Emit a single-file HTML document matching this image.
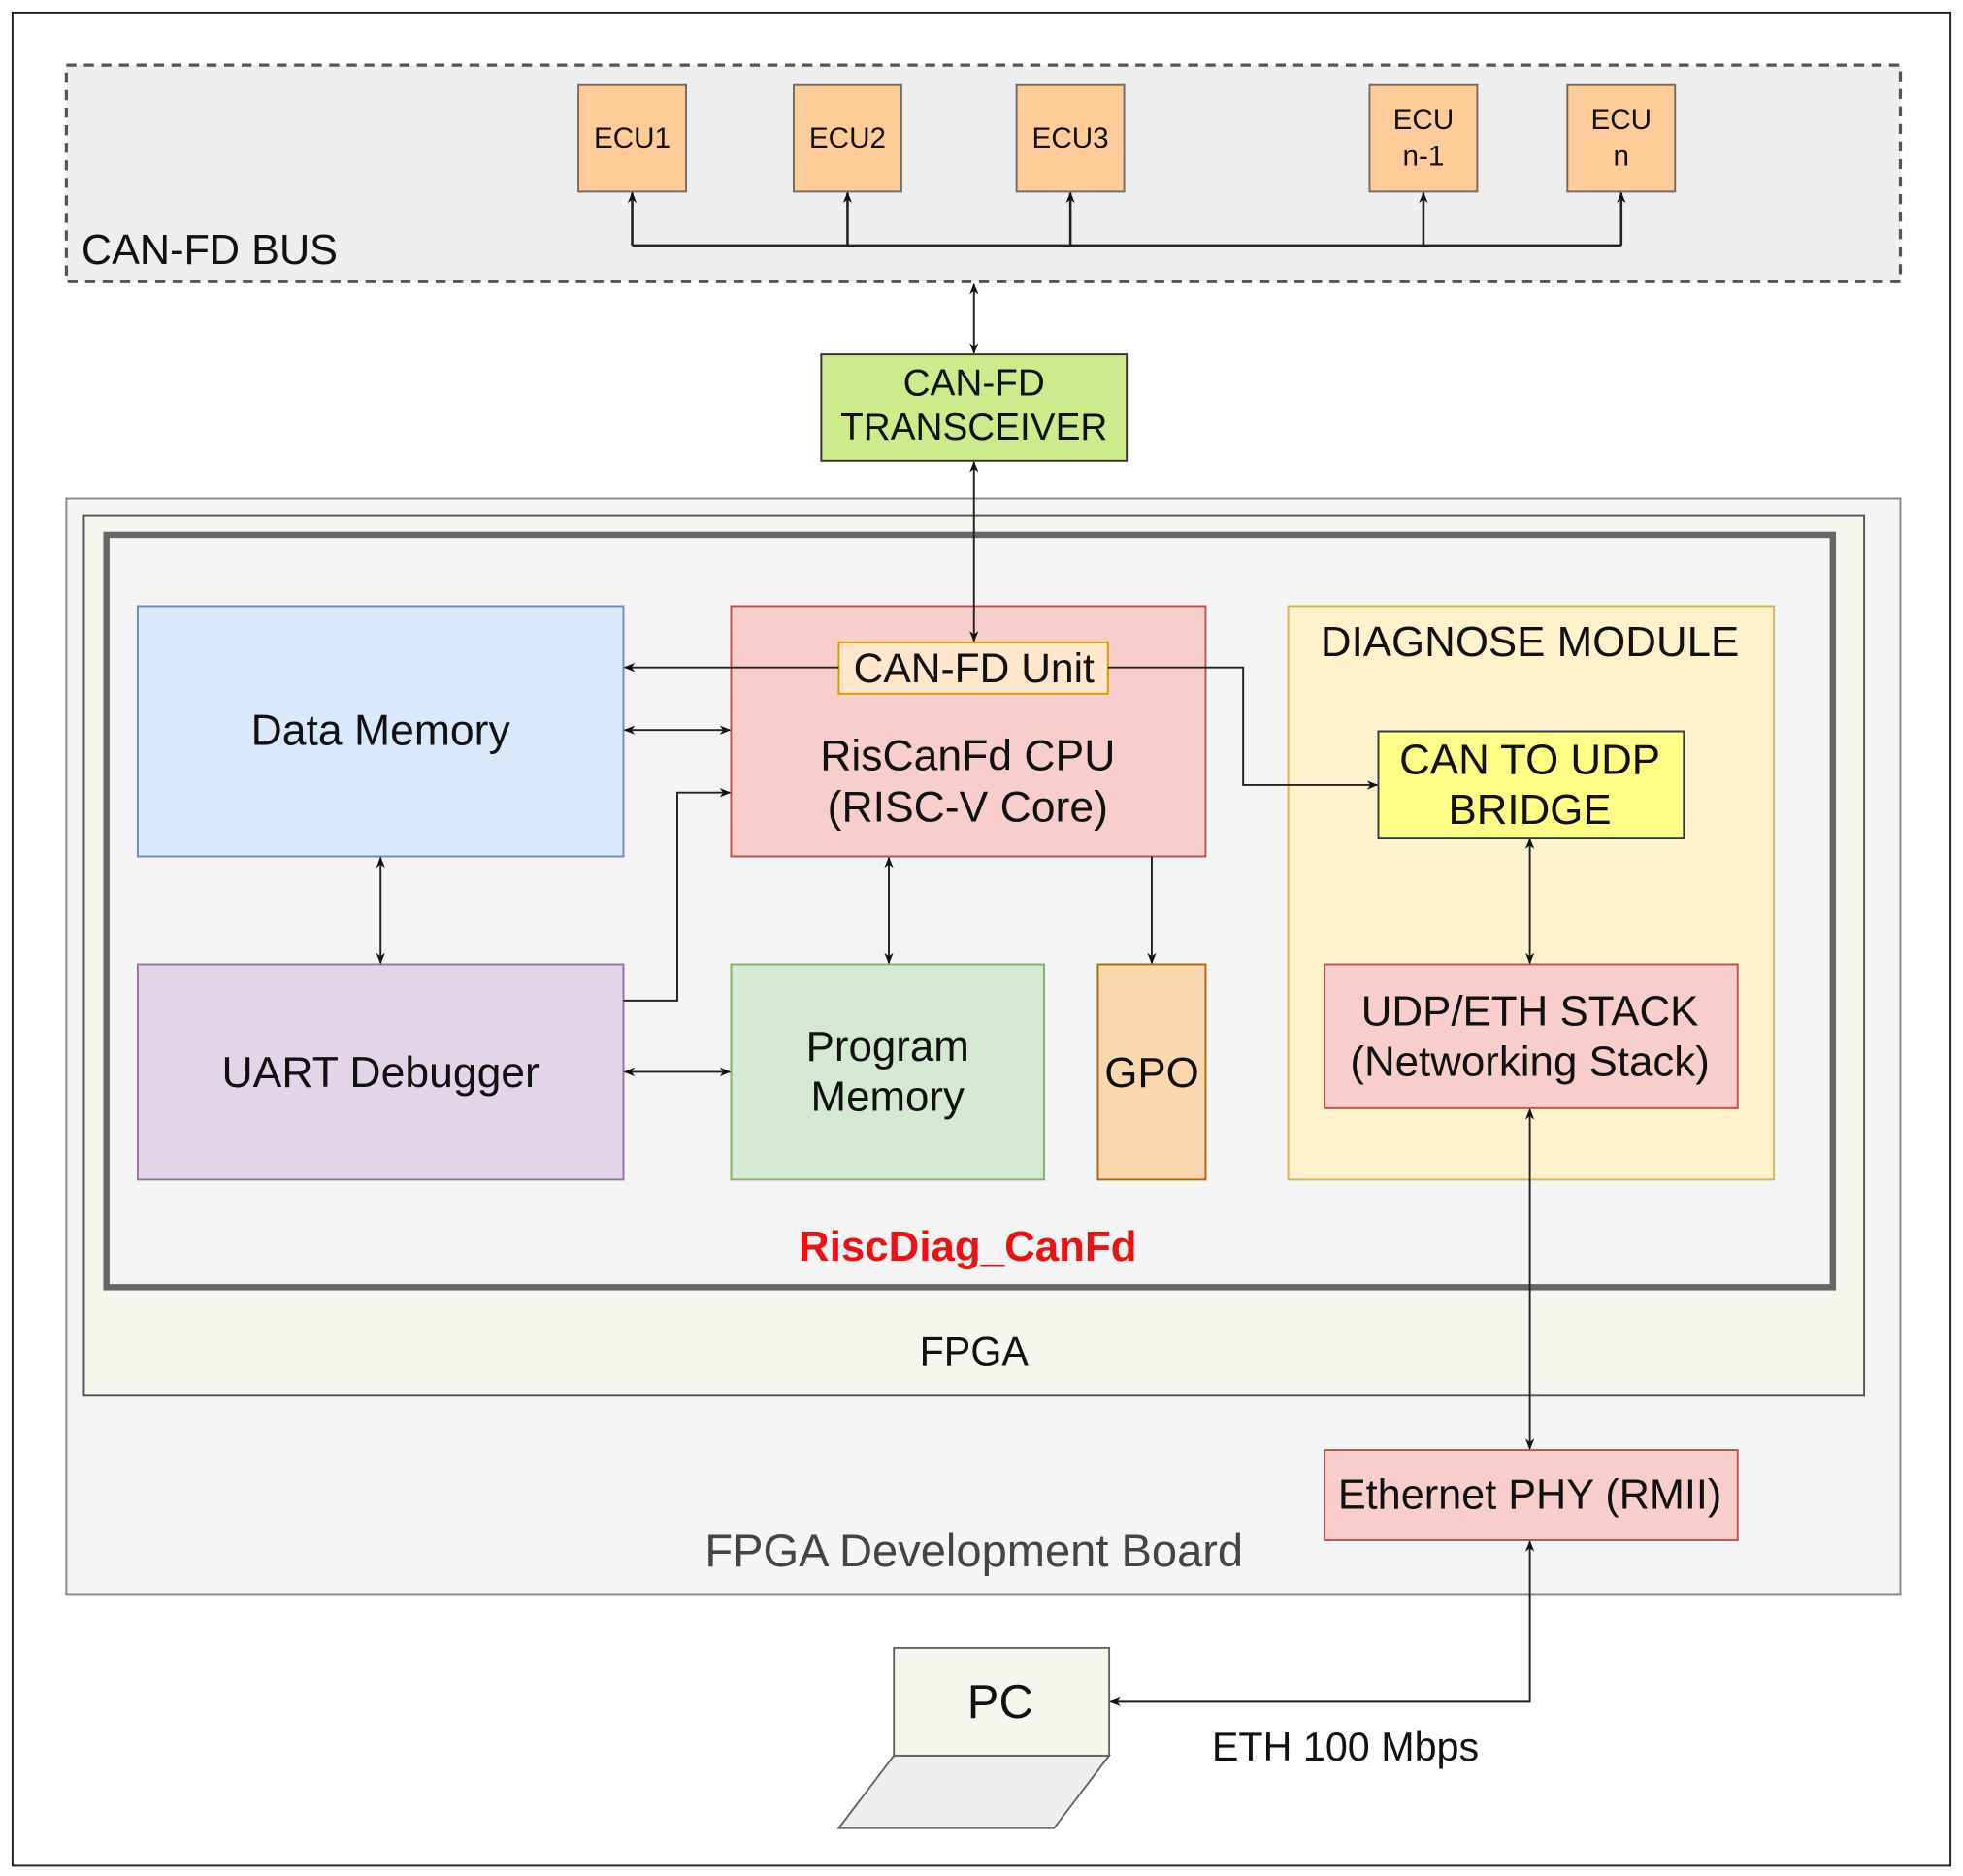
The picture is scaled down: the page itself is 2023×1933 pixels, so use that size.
<!DOCTYPE html>
<html><head><meta charset="utf-8"><style>html,body{margin:0;padding:0;background:#fff}svg{display:block}text{font-family:"Liberation Sans",Arial,sans-serif;fill:#111}</style></head>
<body>
<svg width="2023" height="1933" viewBox="0 0 1568 1498.2" preserveAspectRatio="none" xmlns="http://www.w3.org/2000/svg">
<defs>
<marker id="a" viewBox="0 0 10 10" refX="9" refY="5" markerWidth="9" markerHeight="9" orient="auto-start-reverse" markerUnits="userSpaceOnUse"><path d="M0,1 L10,5 L0,9 L3,5 z" fill="#111"/></marker>
</defs>
<rect x="0" y="0" width="1568" height="1499" fill="#fff"/>
<rect x="10" y="10" width="1548" height="1480" fill="#fff" stroke="#222" stroke-width="1.5"/>
<rect x="53" y="52" width="1465" height="173" fill="#eeeeee" stroke="#555" stroke-width="2.5" stroke-dasharray="8,6"/>
<text x="65" y="211" font-size="33.5">CAN-FD BUS</text>
<g fill="#ffcc99" stroke="#7a6a5a" stroke-width="1.5">
<rect x="462" y="68" width="86" height="85"/><rect x="634" y="68" width="86" height="85"/><rect x="812" y="68" width="86" height="85"/><rect x="1094" y="68" width="86" height="85"/><rect x="1252" y="68" width="86" height="85"/>
</g>
<g font-size="23" text-anchor="middle">
<text x="505" y="118">ECU1</text><text x="677" y="118">ECU2</text><text x="855" y="118">ECU3</text>
<text x="1137" y="103">ECU</text><text x="1137" y="132">n-1</text>
<text x="1295" y="103">ECU</text><text x="1295" y="132">n</text>
</g>
<g stroke="#222" stroke-width="2" fill="none">
<path d="M505,196 H1295"/>
<path d="M505,196 V154" marker-end="url(#a)"/><path d="M677,196 V154" marker-end="url(#a)"/><path d="M855,196 V154" marker-end="url(#a)"/><path d="M1137,196 V154" marker-end="url(#a)"/><path d="M1295,196 V154" marker-end="url(#a)"/>
</g>
<g stroke="#222" stroke-width="1.5" fill="none">
<path d="M778,227 V282" marker-start="url(#a)" marker-end="url(#a)"/>
</g>
<rect x="656" y="283" width="244" height="85" fill="#cdeb8b" stroke="#333" stroke-width="1.5"/>
<text x="778" y="316" font-size="30" text-anchor="middle">CAN-FD</text>
<text x="778" y="351" font-size="30" text-anchor="middle">TRANSCEIVER</text>
<rect x="53" y="398" width="1465" height="875" fill="#f5f5f5" stroke="#888" stroke-width="1.5"/>
<text x="778" y="1251" font-size="36.5" text-anchor="middle" style="fill:#444">FPGA Development Board</text>
<rect x="67" y="412" width="1422" height="702" fill="#f6f5ee" stroke="#555" stroke-width="1.5"/>
<text x="778" y="1090" font-size="32" text-anchor="middle">FPGA</text>
<rect x="85" y="427" width="1379" height="601" fill="#f4f4f4" stroke="#666" stroke-width="5"/>
<text x="773" y="1007" font-size="34" font-weight="bold" text-anchor="middle" style="fill:#ee1111">RiscDiag_CanFd</text>
<rect x="110" y="484" width="388" height="200" fill="#dae8fc" stroke="#6c8ebf" stroke-width="1.5"/>
<text x="304" y="595" font-size="34.5" text-anchor="middle">Data Memory</text>
<rect x="584" y="484" width="379" height="200" fill="#f8cecc" stroke="#b85450" stroke-width="1.5"/>
<text x="773" y="615" font-size="34.5" text-anchor="middle">RisCanFd CPU</text>
<text x="773" y="656" font-size="34.5" text-anchor="middle">(RISC-V Core)</text>
<rect x="670" y="513" width="215" height="41" fill="#ffe6cc" stroke="#d79b00" stroke-width="1.5"/>
<text x="778" y="545" font-size="33" text-anchor="middle">CAN-FD Unit</text>
<rect x="1029" y="484" width="388" height="458" fill="#fff2cc" stroke="#d6b656" stroke-width="1.5"/>
<text x="1222" y="524" font-size="34" text-anchor="middle">DIAGNOSE MODULE</text>
<rect x="1101" y="584" width="244" height="85" fill="#ffff88" stroke="#36393d" stroke-width="1.5"/>
<text x="1222" y="618" font-size="34" text-anchor="middle">CAN TO UDP</text>
<text x="1222" y="658" font-size="34" text-anchor="middle">BRIDGE</text>
<rect x="1058" y="770" width="330" height="115" fill="#f8cecc" stroke="#b85450" stroke-width="1.5"/>
<text x="1222" y="819" font-size="34" text-anchor="middle">UDP/ETH STACK</text>
<text x="1222" y="859" font-size="34" text-anchor="middle">(Networking Stack)</text>
<rect x="110" y="770" width="388" height="172" fill="#e1d5e7" stroke="#9673a6" stroke-width="1.5"/>
<text x="304" y="868" font-size="34.5" text-anchor="middle">UART Debugger</text>
<rect x="584" y="770" width="250" height="172" fill="#d5e8d4" stroke="#82b366" stroke-width="1.5"/>
<text x="709" y="847" font-size="34" text-anchor="middle">Program</text>
<text x="709" y="887" font-size="34" text-anchor="middle">Memory</text>
<rect x="877" y="770" width="86" height="172" fill="#fad7ac" stroke="#b46504" stroke-width="1.5"/>
<text x="920" y="868" font-size="34" text-anchor="middle">GPO</text>
<rect x="1058" y="1158" width="330" height="72" fill="#f8cecc" stroke="#b85450" stroke-width="1.5"/>
<text x="1222" y="1205" font-size="33.5" text-anchor="middle">Ethernet PHY (RMII)</text>
<polygon points="714,1402 886,1402 842,1460 670,1460" fill="#eeeeee" stroke="#666" stroke-width="1.5"/>
<rect x="714" y="1316" width="172" height="86" fill="#f6f5ee" stroke="#666" stroke-width="1.5"/>
<text x="799" y="1372" font-size="38" text-anchor="middle">PC</text>
<text x="968" y="1406" font-size="32">ETH 100 Mbps</text>
<g stroke="#222" stroke-width="1.5" fill="none">
<path d="M778,369 V512" marker-start="url(#a)" marker-end="url(#a)"/>
<path d="M670,533 H499" marker-end="url(#a)"/>
<path d="M499,583 H583" marker-start="url(#a)" marker-end="url(#a)"/>
<path d="M498,799 H541 V633 H583" marker-end="url(#a)"/>
<path d="M885,533 H993 V627 H1100" marker-end="url(#a)"/>
<path d="M304,685 V769" marker-start="url(#a)" marker-end="url(#a)"/>
<path d="M710,685 V769" marker-start="url(#a)" marker-end="url(#a)"/>
<path d="M920,684 V769" marker-end="url(#a)"/>
<path d="M499,856 H583" marker-start="url(#a)" marker-end="url(#a)"/>
<path d="M1222,670 V769" marker-start="url(#a)" marker-end="url(#a)"/>
<path d="M1222,886 V1157" marker-start="url(#a)" marker-end="url(#a)"/>
<path d="M1222,1231 V1359 H887" marker-start="url(#a)" marker-end="url(#a)"/>
</g>
</svg>
</body></html>
